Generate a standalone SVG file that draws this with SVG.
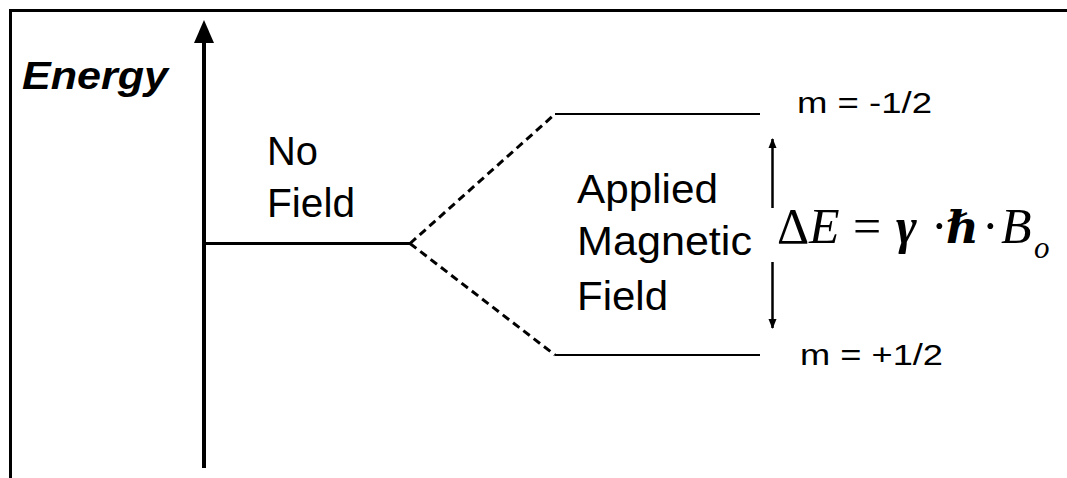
<svg xmlns="http://www.w3.org/2000/svg" width="1067" height="478" viewBox="0 0 1067 478">
  <defs>
    <style>
      .sans { font-family: "Liberation Sans", Arial, sans-serif; fill: #000; }
      .label { font-size: 40px; }
      .spin { font-size: 30px; }
      .math { font-family: "Liberation Serif", "DejaVu Serif", serif; font-size: 50px; fill: #000; }
      .it { font-style: italic; }
      .bd { font-weight: bold; }
      .hbar { font-size: 45px; }
      .sub { font-size: 31px; }
      .frame { stroke: #000; stroke-width: 3; fill: none; }
      .level { stroke: #000; stroke-width: 2; fill: none; }
      .split { stroke: #000; stroke-width: 3; stroke-dasharray: 8 5; fill: none; }
    </style>
    <marker id="small-head" viewBox="0 0 10 10" refX="9" refY="5" markerWidth="4" markerHeight="6" markerUnits="strokeWidth" orient="auto">
      <path d="M0,1 L10,5 L0,9 Z" fill="#000"/>
    </marker>
  </defs>

  <rect width="1067" height="478" fill="#fff"/>

  <!-- frame: top and left edges -->
  <path class="frame" d="M10.5,478 V10.5 H1067"/>

  <!-- energy axis -->
  <g id="energy-axis">
    <line x1="204" y1="468" x2="204" y2="38" stroke="#000" stroke-width="4"/>
    <polygon points="204,20 194,43 214,43" fill="#000"/>
    <text class="sans" x="22" y="89" font-size="39" font-weight="bold" font-style="italic" textLength="146" lengthAdjust="spacingAndGlyphs">Energy</text>
  </g>

  <!-- connectors -->
  <g id="connectors">
    <line x1="204" y1="243.5" x2="410" y2="243.5" stroke="#000" stroke-width="3"/>
    <line class="split" x1="410" y1="243.5" x2="555" y2="114"/>
    <line class="split" x1="410" y1="243.5" x2="555" y2="355"/>
    <line class="level" x1="555" y1="114" x2="760" y2="114"/>
    <line class="level" x1="555" y1="355" x2="760" y2="355"/>
    <line x1="772.5" y1="208" x2="772.5" y2="139" stroke="#000" stroke-width="2.5" marker-end="url(#small-head)"/>
    <line x1="772.5" y1="262" x2="772.5" y2="328" stroke="#000" stroke-width="2.5" marker-end="url(#small-head)"/>
  </g>

  <g id="no-field">
    <text class="sans label" x="267" y="165" textLength="51" lengthAdjust="spacingAndGlyphs">No</text>
    <text class="sans label" x="267" y="217" textLength="88" lengthAdjust="spacingAndGlyphs">Field</text>
  </g>

  <g id="applied-field">
    <text class="sans label" x="577" y="203" textLength="141" lengthAdjust="spacingAndGlyphs">Applied</text>
    <text class="sans label" x="577" y="255" textLength="175" lengthAdjust="spacingAndGlyphs">Magnetic</text>
    <text class="sans label" x="577" y="310" textLength="91" lengthAdjust="spacingAndGlyphs">Field</text>
  </g>

  <g id="level-upper">
    <text class="sans spin" x="797" y="113" textLength="135" lengthAdjust="spacingAndGlyphs">m = -1/2</text>
  </g>

  <g id="level-lower">
    <text class="sans spin" x="800" y="365" textLength="143" lengthAdjust="spacingAndGlyphs">m = +1/2</text>
  </g>

  <!-- energy gap formula, one glyph run per symbol -->
  <g id="energy-gap">
    <text class="math" x="777" y="243">Δ</text>
    <text class="math it" x="809" y="243">E</text>
    <text class="math" x="853" y="243">=</text>
    <text class="math it bd" x="896" y="243">γ</text>
    <text class="math" x="931" y="243">·</text>
    <text class="math it bd hbar" x="946" y="243">ℏ</text>
    <text class="math" x="982" y="243">·</text>
    <text class="math it" x="1001" y="243">B</text>
    <text class="math it sub" x="1034" y="258">o</text>
  </g>
</svg>
